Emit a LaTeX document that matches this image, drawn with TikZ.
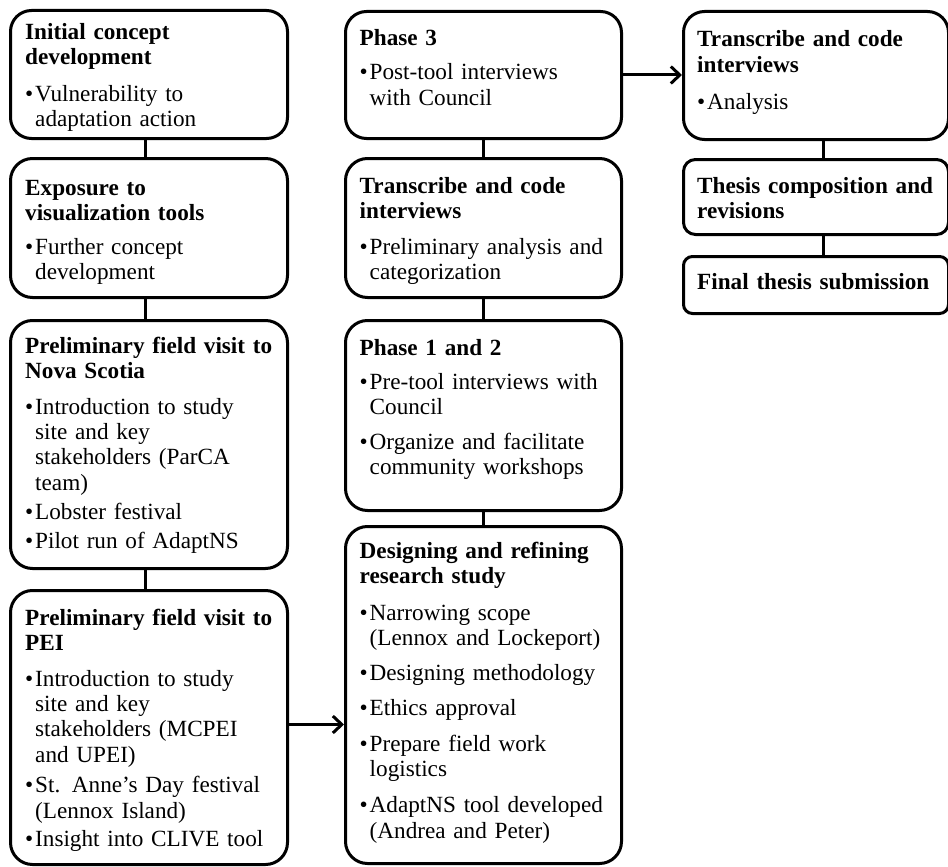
\documentclass[tikz,border=0pt]{standalone}
\usepackage{fontspec}
\setmainfont{Liberation Serif}
\usetikzlibrary{arrows.meta}
\newcommand{\hd}[1]{{\bfseries #1\par}}
\newcommand{\bl}[2][5pt]{\par\vspace{#1}\hangindent=10pt\hangafter=1\noindent\makebox[10pt][l]{\textbullet}#2\par}
\begin{document}
\begin{tikzpicture}[x=1pt,y=1pt,
  box/.style n args={3}{draw, line width=3pt, inner sep=0pt, anchor=north west,
    minimum width=#1pt, minimum height=#2pt, rounded corners=#3pt},
  txt/.style={anchor=base west, inner sep=0pt, text width=270pt, align=left,
    font=\fontsize{23.2pt}{25.3pt}\selectfont},
  link/.style={line width=3pt},
  arr/.style={line width=3pt, -{Straight Barb[length=9pt,width=17pt,line width=3pt]}}
]
\fill[white] (0,0) rectangle (948,-867);
\useasboundingbox (0,0) rectangle (948,-867);

% column 1
\node[box={277}{128}{21}] (a1) at (9,-9) {};
\node[box={277}{139}{22}] (a2) at (9,-157) {};
\node[box={277}{248}{22}] (a3) at (9,-319) {};
\node[box={277}{274}{22}] (a4) at (9,-589) {};
% column 2
\node[box={276}{127}{21}] (b1) at (344,-10) {};
\node[box={276}{139}{22}] (b2) at (344,-157) {};
\node[box={276}{190}{22}] (b3) at (344,-319) {};
\node[box={276}{337}{22}] (b4) at (344,-525) {};
% column 3
\node[box={265}{128}{21}] (c1) at (682,-10) {};
\node[box={265}{75}{12}] (c2) at (682,-158) {};
\node[box={265}{57}{9}] (c3) at (682,-255) {};

% texts
\node[txt] (a1t) at ([shift={(16pt,-30.5pt)}]a1.north west) {\hd{Initial concept\newline development}\bl[11.5pt]{Vulnerability to\newline adaptation action}};
\node[txt] (a2t) at ([shift={(16pt,-38pt)}]a2.north west) {\hd{Exposure to\newline visualization tools}\bl[9pt]{Further concept\newline development}};
\node[txt] (a3t) at ([shift={(16pt,-34pt)}]a3.north west) {\hd{Preliminary field visit to\newline Nova Scotia}\bl[10.5pt]{Introduction to study\newline site and key\newline stakeholders (ParCA\newline team)}\bl[4.5pt]{Lobster festival}\bl[3pt]{Pilot run of AdaptNS}};
\node[txt] (a4t) at ([shift={(16pt,-36pt)}]a4.north west) {\hd{Preliminary field visit to\newline PEI}\bl[10.5pt]{Introduction to study\newline site and key\newline stakeholders (MCPEI\newline and UPEI)}\bl[5.5pt]{St. Anne’s Day festival\newline (Lennox Island)}\bl[3.5pt]{Insight into CLIVE tool}};

\node[txt] (b1t) at ([shift={(15.5pt,-36pt)}]b1.north west) {\hd{Phase 3}\bl[8.7pt]{Post-tool interviews\newline with Council}};
\node[txt] (b2t) at ([shift={(15.5pt,-36pt)}]b2.north west) {\hd{Transcribe and code\newline interviews}\bl[11pt]{Preliminary analysis and\newline categorization}};
\node[txt] (b3t) at ([shift={(15.5pt,-36pt)}]b3.north west) {\hd{Phase 1 and 2}\bl[8.7pt]{Pre-tool interviews with\newline Council}\bl[9.7pt]{Organize and facilitate\newline community workshops}};
\node[txt] (b4t) at ([shift={(15.5pt,-33pt)}]b4.north west) {\hd{Designing and refining\newline research study}\bl[11.7pt]{Narrowing scope\newline (Lennox and Lockeport)}\bl[9.7pt]{Designing methodology}\bl[9.7pt]{Ethics approval}\bl[10.7pt]{Prepare field work\newline logistics}\bl[10.7pt]{AdaptNS tool developed\newline (Andrea and Peter)}};

\node[txt] (c1t) at ([shift={(15pt,-37pt)}]c1.north west) {\hd{Transcribe and code\newline interviews}\bl[11.7pt]{Analysis}};
\node[txt] (c2t) at ([shift={(15pt,-35pt)}]c2.north west) {\hd{Thesis composition and\newline revisions}};
\node[txt] (c3t) at ([shift={(15pt,-34pt)}]c3.north west) {\hd{Final thesis submission}};

% connectors
\draw[link] ([xshift=-3.5pt]a1.south) -- ([xshift=-3.5pt]a2.north);
\draw[link] ([xshift=-3.5pt]a2.south) -- ([xshift=-3.5pt]a3.north);
\draw[link] ([xshift=-3.5pt]a3.south) -- ([xshift=-3.5pt]a4.north);
\draw[link] (b1.south) -- (b2.north);
\draw[link] (b2.south) -- (b3.north);
\draw[link] (b3.south) -- (b4.north);
\draw[link] ([xshift=7pt]c1.south) -- ([xshift=7pt]c2.north);
\draw[link] ([xshift=7pt]c2.south) -- ([xshift=7pt]c3.north);
\draw[arr] ([yshift=3pt]a4.east) -- ([yshift=3pt]a4.east -| b4.west);
\draw[arr] (b1.east) -- (b1.east -| c1.west);
\end{tikzpicture}
\end{document}
